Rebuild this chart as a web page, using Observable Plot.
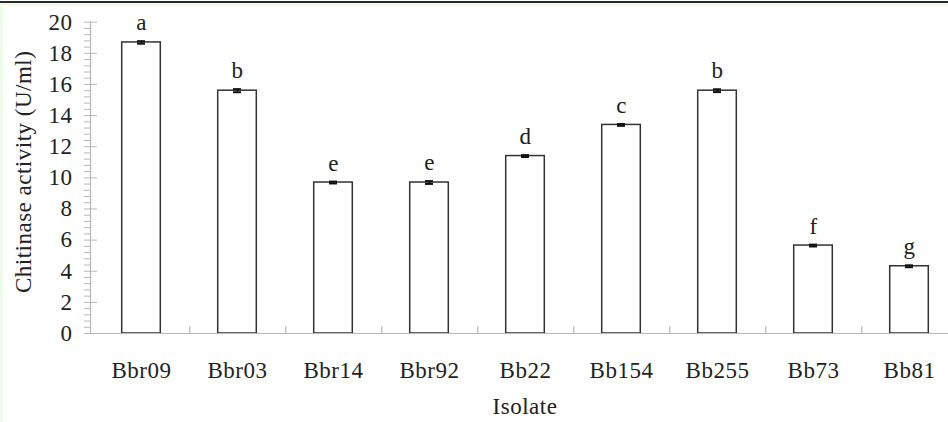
<!DOCTYPE html>
<html>
<head>
<meta charset="utf-8">
<script src="https://cdn.jsdelivr.net/npm/d3@7"></script>
<script src="https://cdn.jsdelivr.net/npm/@observablehq/plot@0.6"></script>
<style>
  html, body { margin: 0; padding: 0; }
  body { width: 948px; height: 422px; overflow: hidden; position: relative; background: white; }
  #chart { position: absolute; left: 0; top: 0; }
  .topline { position: absolute; left: 0; top: 1px; width: 948px; height: 2px; background: #2a2a2a; }
  .topgreen { position: absolute; left: 0; top: 3px; width: 948px; height: 3px; background: #eefbe9; }
  .leftgreen { position: absolute; left: 0; top: 3px; width: 3px; height: 419px; background: #eefbe9; }
</style>
</head>
<body>
<div id="chart"></div>
<div class="topline"></div>
<div class="topgreen"></div>
<div class="leftgreen"></div>
<script>
const categories = ["Bbr09", "Bbr03", "Bbr14", "Bbr92", "Bb22", "Bb154", "Bb255", "Bb73", "Bb81"];
const activity = [18.7, 15.6, 9.7, 9.7, 11.4, 13.4, 15.6, 5.65, 4.32];
const errors = [0.08, 0.1, 0.06, 0.09, 0.06, 0.06, 0.09, 0.06, 0.06];
const letters = ["a", "b", "e", "e", "d", "c", "b", "f", "g"];
const yTicks = [0, 2, 4, 6, 8, 10, 12, 14, 16, 18, 20];
const yMinorTicks = d3.range(0, 20.001, 0.4).map(v => +v.toFixed(1)).filter(v => !yTicks.includes(v));
const yLabel = "Chitinase activity (U/ml)";
const xLabel = "Isolate";

const data = categories.map((c, i) => ({cat: c, v: activity[i], e: errors[i], letter: letters[i]}));

const W = 959, ML = 90, MR = 0;
const step = (W - ML - MR) / categories.length;
const axisGray = "#b8b8b8";
const ink = "#222";
const FS = 23;

const chart = Plot.plot({
  width: W,
  height: 422,
  marginLeft: ML,
  marginRight: MR,
  marginTop: 21.7,
  marginBottom: 89,
  style: {fontFamily: "'Liberation Serif', serif", fontSize: FS + "px", color: ink, background: "transparent", maxWidth: "none", letterSpacing: "0.5px"},
  x: {domain: categories, padding: 0},
  y: {domain: [0, 20]},
  marks: [
    Plot.barY(data, {x: "cat", y: "v", fill: "white", stroke: "#333", strokeWidth: 1.5, insetLeft: 28.7, insetRight: 28.7}),
    Plot.ruleX(data, {x: "cat", y1: d => d.v - d.e, y2: d => d.v + d.e, stroke: "#111", strokeWidth: 1.5}),
    Plot.tickY(data, {x: "cat", y: d => d.v + d.e, insetLeft: 44, insetRight: 44, stroke: "#111", strokeWidth: 2}),
    Plot.tickY(data, {x: "cat", y: d => d.v - d.e, insetLeft: 44, insetRight: 44, stroke: "#111", strokeWidth: 2}),
    Plot.text(data, {x: "cat", y: d => d.v + d.e, text: "letter", lineAnchor: "bottom", dy: -11, fill: ink, fontSize: FS}),
    Plot.ruleY([0], {stroke: axisGray, strokeWidth: 1.2}),
    Plot.frame({anchor: "left", stroke: axisGray, strokeWidth: 1.2}),
    Plot.ruleX(categories, {x: d => d, y1: 0, y2: 0.45, dx: step / 2, stroke: axisGray, strokeWidth: 1.2}),
    Plot.axisY({ticks: yMinorTicks, tickSize: 6, tickFormat: () => "", stroke: axisGray, label: null}),
    Plot.axisY({ticks: yTicks, tickSize: 6, tickPadding: 12, stroke: axisGray, fill: ink, label: null, fontSize: FS}),
    Plot.axisY({ticks: yTicks, tickSize: -7, tickFormat: () => "", stroke: axisGray, label: null}),
    Plot.axisX({tickSize: 0, tickPadding: 28, fill: ink, label: null, fontSize: FS}),
    Plot.text([yLabel], {frameAnchor: "left", textAnchor: "middle", dx: -67, dy: -6, rotate: -90, fill: ink, fontSize: FS}),
    Plot.text([xLabel], {frameAnchor: "bottom", dy: 80, fill: ink, fontSize: FS})
  ]
});
document.getElementById("chart").appendChild(chart);
</script>
</body>
</html>
